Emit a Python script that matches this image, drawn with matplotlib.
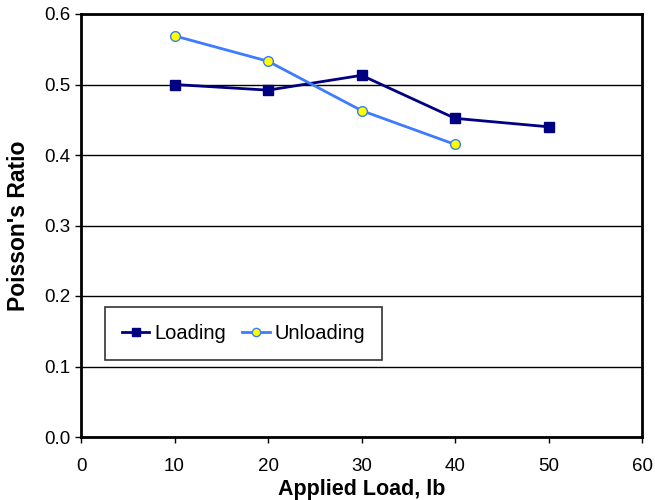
import matplotlib
matplotlib.use("Agg")
import matplotlib.pyplot as plt

plt.rcParams['font.family'] = ['Liberation Sans', 'DejaVu Sans']

# Data
load_x = [10, 20, 30, 40, 50]
load_y = [0.500, 0.492, 0.513, 0.452, 0.440]
unload_x = [10, 20, 30, 40]
unload_y = [0.569, 0.533, 0.463, 0.415]

x_ticks = [0, 10, 20, 30, 40, 50, 60]
y_ticks = [0.0, 0.1, 0.2, 0.3, 0.4, 0.5, 0.6]

fig = plt.figure(figsize=(6.55, 5.0), dpi=100)
ax = fig.add_axes([0.1237, 0.126, 0.8565, 0.846])

ax.plot(load_x, load_y, color='#000080', lw=2, marker='s', ms=6.5,
        mfc='#000080', mec='#000080', label='Loading', zorder=3)
ax.plot(unload_x, unload_y, color='#3D7BFF', lw=2, marker='o', ms=7,
        mfc='#FFFF00', mec='#3D7BFF', mew=1, label='Unloading', zorder=3)

ax.set_xlim(0, 60)
ax.set_ylim(0, 0.6)
ax.set_xticks(x_ticks)
ax.set_yticks(y_ticks)
ax.set_yticklabels([f'{v:.1f}' for v in y_ticks])
ax.tick_params(direction='out', length=4, width=1, labelsize=13.5, colors='black')
ax.tick_params(axis='x', pad=11)
ax.tick_params(axis='y', pad=3.5)

ax.yaxis.grid(True, color='black', lw=1)
ax.set_axisbelow(True)
for sp in ax.spines.values():
    sp.set_linewidth(2)
    sp.set_color('black')

ax.set_xlabel('Applied Load, lb', fontsize=15.5, fontweight='bold', labelpad=3)
ax.set_ylabel("Poisson's Ratio", fontsize=16.5, fontweight='bold', labelpad=10)

leg = ax.legend(loc='lower left', bbox_to_anchor=(0.043, 0.182), ncol=2,
                fontsize=14.5, frameon=True, fancybox=False, borderaxespad=0,
                handlelength=1.35, handletextpad=0.25, columnspacing=0.8,
                borderpad=0.85, markerscale=0.85)
leg.get_frame().set_edgecolor('black')
leg.get_frame().set_linewidth(1.2)

fig.savefig('out.png', dpi=100)
